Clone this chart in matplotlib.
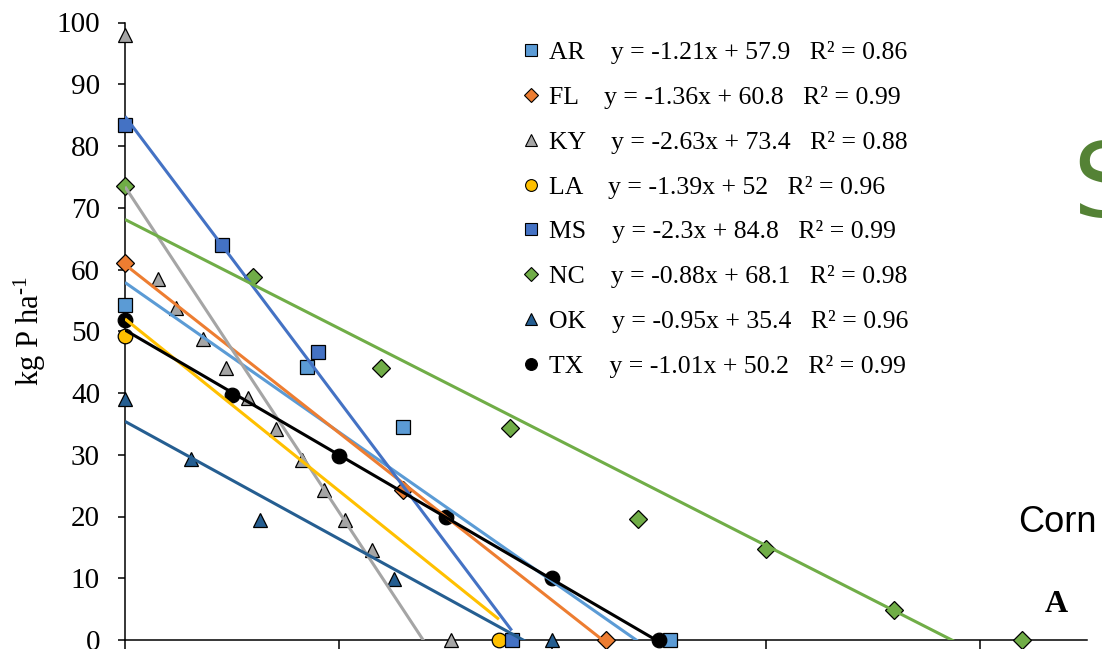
import numpy as np
import matplotlib
matplotlib.use("Agg")
import matplotlib.pyplot as plt
from matplotlib.lines import Line2D

plt.rcParams['font.family'] = ['Liberation Serif', 'DejaVu Serif']
plt.rcParams['mathtext.fontset'] = 'custom'
plt.rcParams['mathtext.rm'] = 'Liberation Serif'
plt.rcParams['mathtext.it'] = 'Liberation Serif:italic'

# data
states = ["AR", "FL", "KY", "LA", "MS", "NC", "OK", "TX"]

ar_x = [0, 17, 26, 51]
ar_y = [54.2, 44.2, 34.5, 0]
fl_x = [0, 26, 45]
fl_y = [61, 24.3, 0]
ky_x = [0, 3.1, 4.8, 7.3, 9.5, 11.5, 14.1, 16.6, 18.6, 20.6, 23.1, 30.5]
ky_y = [98, 58.5, 53.7, 48.8, 44, 39.2, 34.1, 29.1, 24.3, 19.4, 14.6, 0]
la_x = [0, 35]
la_y = [49.2, 0]
ms_x = [0, 9.1, 18.1, 36.2]
ms_y = [83.4, 64, 46.7, 0]
nc_x = [0, 12, 24, 36, 48, 60, 72, 84]
nc_y = [73.5, 58.8, 44, 34.3, 19.6, 14.7, 4.9, 0]
ok_x = [0, 6.2, 12.6, 25.2, 40]
ok_y = [39, 29.3, 19.5, 9.8, 0]
tx_x = [0, 10, 20, 30, 40, 50]
tx_y = [51.8, 39.6, 29.8, 19.9, 10.1, 0]

# trendline coefficients (slope, intercept, R2)
slopes = [-1.21, -1.36, -2.63, -1.39, -2.3, -0.88, -0.95, -1.01]
intercepts = [57.9, 60.8, 73.4, 52, 84.8, 68.1, 35.4, 50.2]
r2 = ["0.86", "0.99", "0.88", "0.96", "0.99", "0.98", "0.96", "0.99"]

xs = [ar_x, fl_x, ky_x, la_x, ms_x, nc_x, ok_x, tx_x]
ys = [ar_y, fl_y, ky_y, la_y, ms_y, nc_y, ok_y, tx_y]

colors = ["#5B9BD5", "#ED7D31", "#A5A5A5", "#FFC000", "#4472C4", "#70AD47", "#255E91", "#000000"]
markers = ["s", "D", "^", "o", "s", "D", "^", "o"]
msizes = [10, 9, 10.5, 10.5, 10, 9, 10.5, 10.5]
leg_ms = [8, 7, 8.5, 8.5, 8, 7, 8.5, 8.5]

fig = plt.figure(figsize=(11.02, 6.49), dpi=100)
ax = fig.add_axes([125/1102, 9/649, 961.5/1102, 617.5/649])

for i in range(len(states)):
    ax.plot(xs[i], ys[i], linestyle='none', marker=markers[i], markersize=msizes[i],
            markerfacecolor=colors[i], markeredgecolor='black', markeredgewidth=0.9,
            clip_on=False, zorder=3)

# trendlines over the range of each series
for i in range(len(states)):
    lx = np.array([min(xs[i]), max(xs[i])])
    ax.plot(lx, slopes[i]*lx + intercepts[i], color=colors[i], lw=2.2, zorder=4,
            solid_capstyle='butt')

ax.set_xlim(0, 90)
ax.set_ylim(0, 100)
ax.set_yticks(np.arange(0, 101, 10))
ax.set_xticks([0, 20, 40, 60, 80])
for s in ['top', 'right']:
    ax.spines[s].set_visible(False)
for s in ['left', 'bottom']:
    ax.spines[s].set_linewidth(1.1)
ax.tick_params(axis='y', direction='out', length=5, width=1.1, labelsize=21, pad=13)
ax.tick_params(axis='x', direction='out', length=8, width=1.1, labelbottom=False)
ax.set_ylabel("kg P ha$^{\\text{-1}}$", fontsize=22)
ax.yaxis.set_label_coords(-0.08, 0.5)

handles = []
labels = []
for i in range(len(states)):
    handles.append(Line2D([], [], linestyle='none', marker=markers[i], markersize=leg_ms[i],
                          markerfacecolor=colors[i], markeredgecolor='black', markeredgewidth=0.8))
    labels.append(f"{states[i]}    y = {slopes[i]}x + {intercepts[i]:g}   R² = {r2[i]}")
leg = fig.legend(handles, labels, loc='upper left', bbox_to_anchor=(518/1102, 1-41/649),
                 frameon=False, fontsize=18.5, labelspacing=0.85, handletextpad=0.2,
                 handlelength=1.0, borderpad=0, borderaxespad=0)

fig.text(1018/1102, 1-532/649, "Corn", fontsize=26, family='Liberation Sans', ha='left', va='baseline')
fig.text(1045/1102, 1-612/649, "A", fontsize=23, fontweight='bold', ha='left', va='baseline')
fig.text(1072/1102, 1-217/649, "S", fontsize=74, family='DejaVu Sans', color='#548235',
         ha='left', va='baseline')

fig.savefig("out.png", dpi=100)
